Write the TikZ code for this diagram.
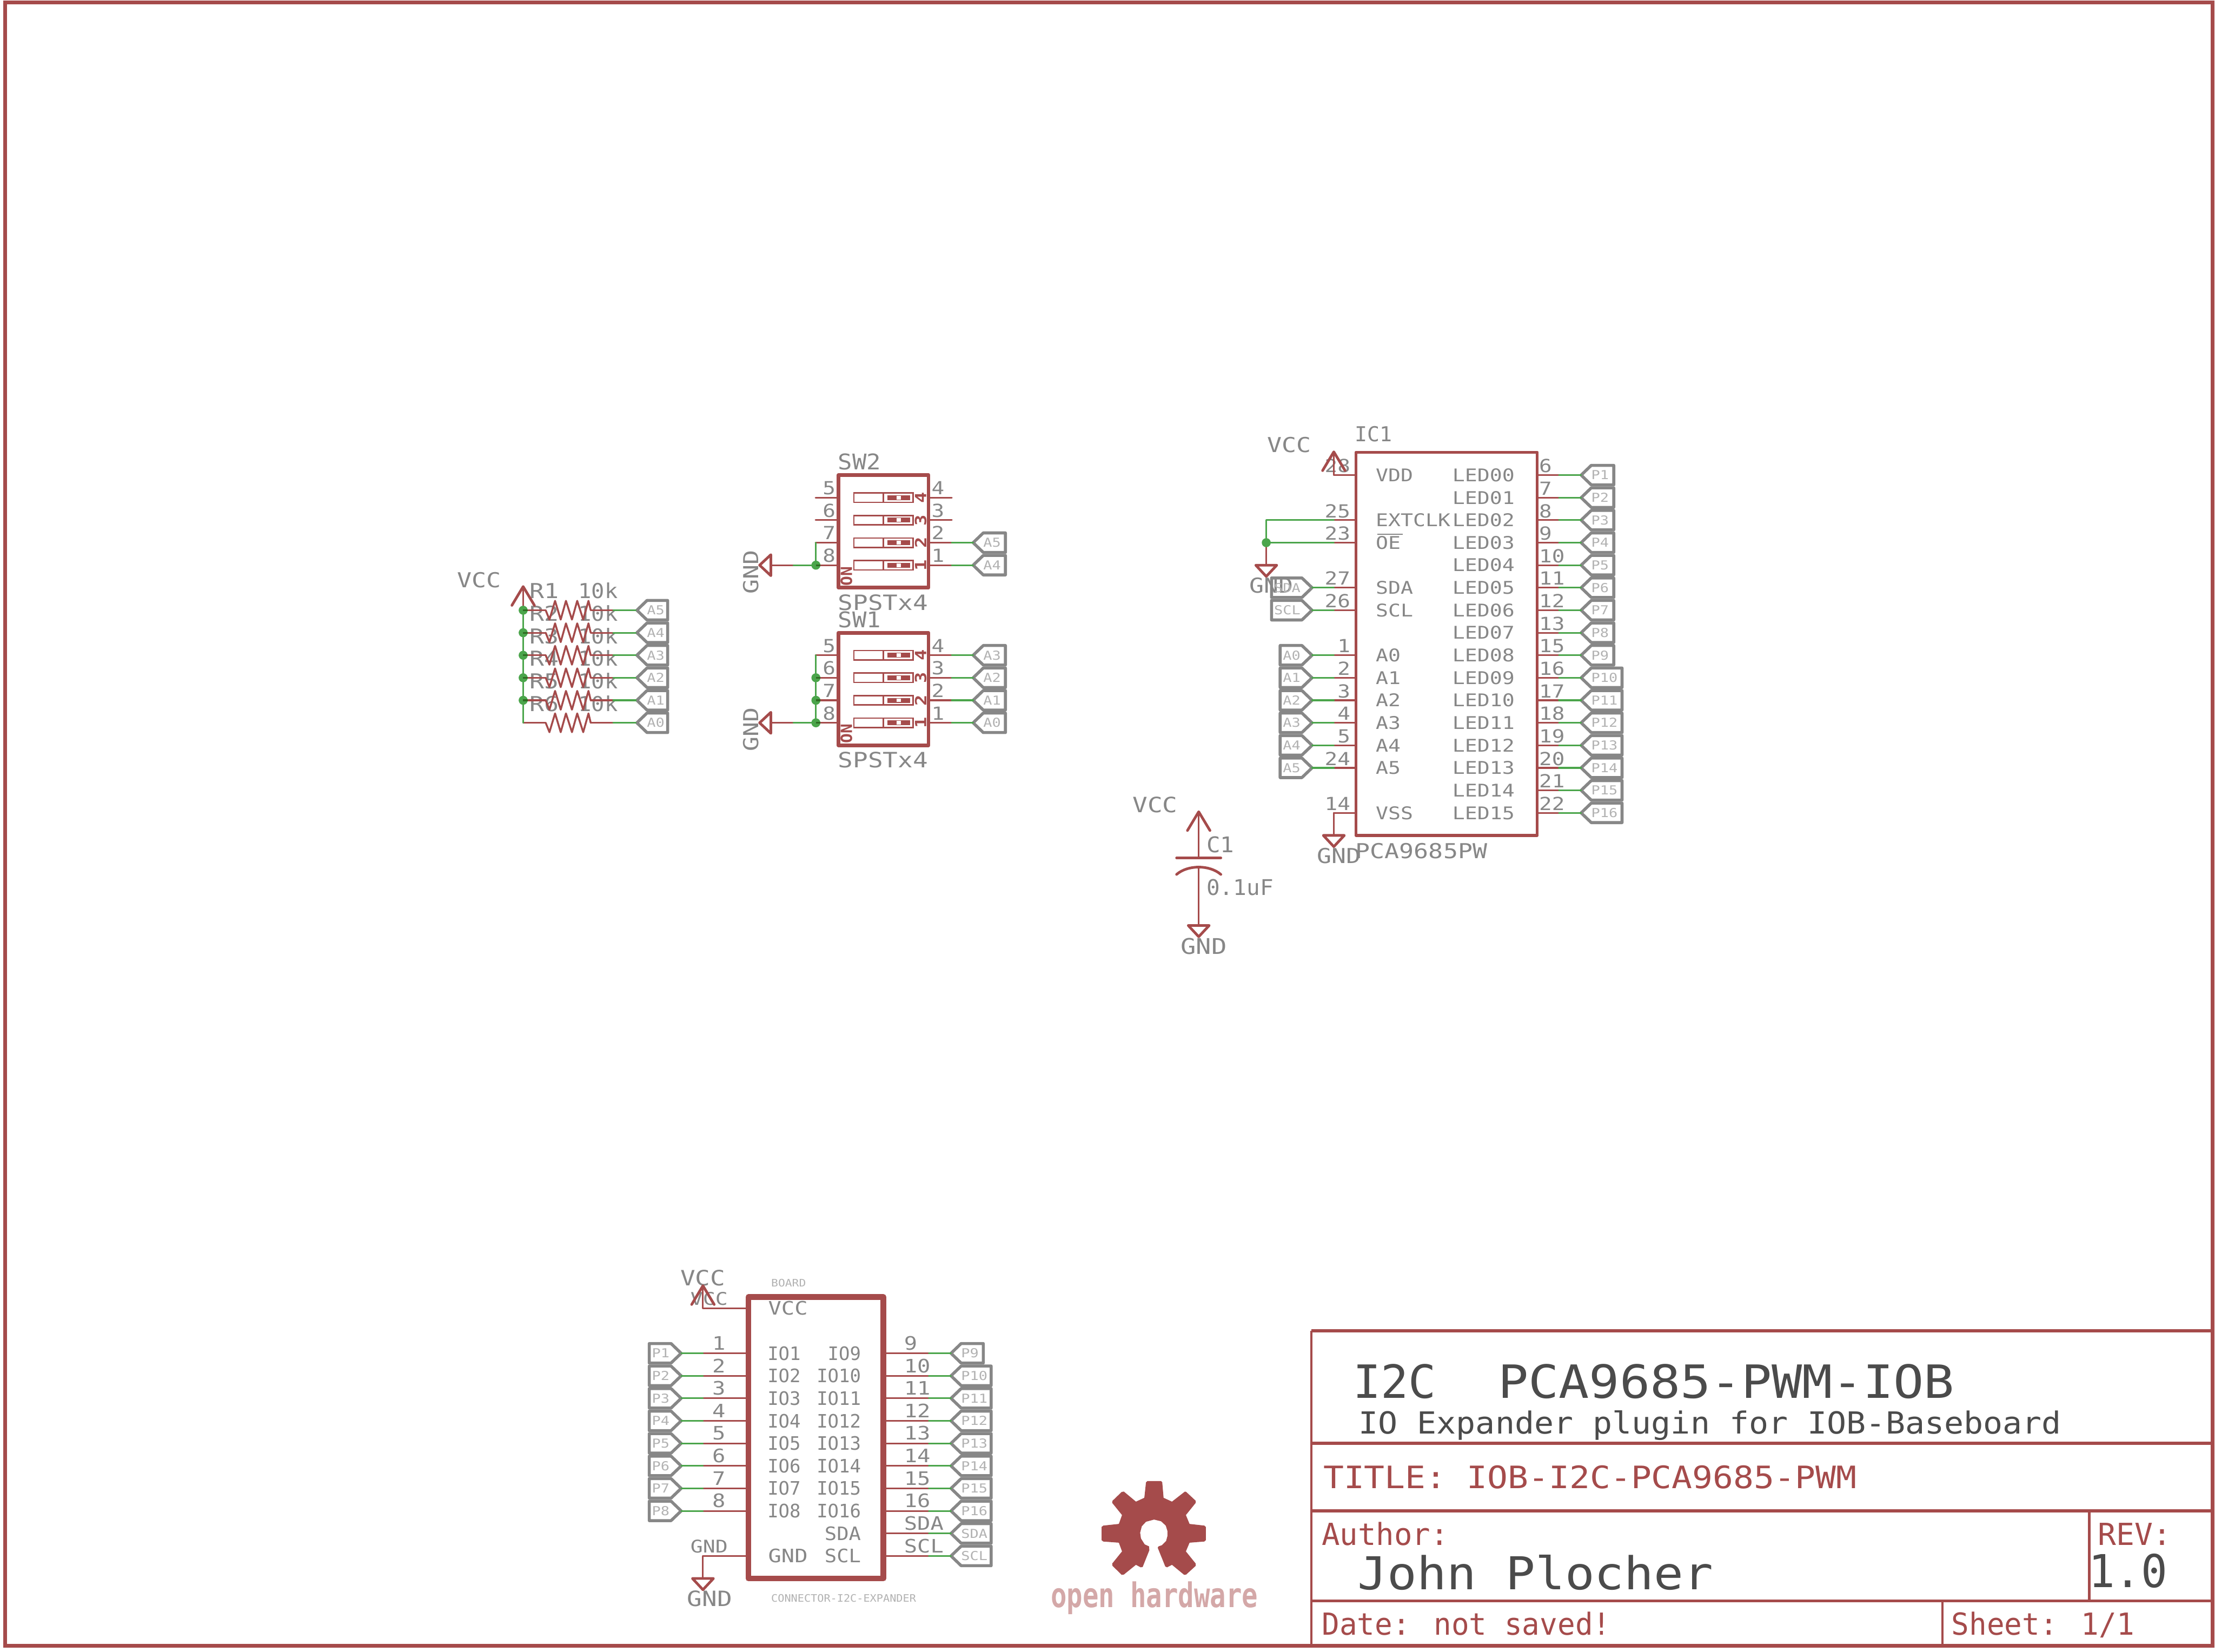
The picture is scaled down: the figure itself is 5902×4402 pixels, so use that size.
\documentclass[tikz,border=0pt]{standalone}
\usepackage{graphicx}
\usepackage{fontspec}
\newfontfamily\eag{DejaVu Sans Mono}[FakeStretch=1.18]
\definecolor{schred}{HTML}{A54B4B}
\definecolor{schgreen}{HTML}{4BA54B}
\definecolor{schdark}{HTML}{2F6A22}
\definecolor{txtgrey}{HTML}{878787}
\definecolor{thingrey}{HTML}{B2B2B2}
\definecolor{txtdark}{HTML}{4B4B4B}
\definecolor{logopink}{HTML}{D4A8A8}
\pgfdeclarelayer{wires}\pgfdeclarelayer{dots}
\pgfsetlayers{main,wires,dots}
\newcounter{nn}
\newcommand\fsz[1]{\pgfmathsetmacro\fszv{0.39*#1}\fontsize{\fszv pt}{\fszv pt}\selectfont\eag}
\tikzset{
  x=0.01cm,y=-0.01cm,
  txt/.style={font=\fsz{#1},text=txtgrey,inner sep=0pt,outer sep=0pt,anchor=base west},
  redt/.style={text=schred},
  darkt/.style={text=txtdark},
  thint/.style={text=thingrey},
  boldt/.style={font=\fsz{#1}\bfseries,text=schred,inner sep=0pt,outer sep=0pt,anchor=center,rotate=90},
  redw/.style={draw=schred,line width=0.045cm,line cap=round,line join=round},
  greenw/.style={draw=schgreen,line width=0.045cm,line cap=round},
  darkw/.style={draw=schdark,line width=0.045cm},
  symb/.style={draw=schred,line width=0.07cm,line cap=round,line join=round},
  pent/.style={draw=txtgrey,line width=0.08cm,line join=round},
  rectthin/.style={draw=schred,line width=0.08cm,line join=round},
  rectmid/.style={draw=schred,line width=0.10cm,line join=round},
  rectthick/.style={draw=schred,line width=0.15cm,line join=round},
  slotbox/.style={draw=schred,line width=0.038cm},
  frameline/.style={draw=schred,line width=0.10cm,line join=miter},
  hline/.style={draw=schred,line width=0.08cm},
  vline/.style={draw=schred,line width=0.06cm},
  greyline/.style={draw=txtgrey,line width=0.035cm},
}
% text: [options]{x}{y}{capheight}{text}
\newcommand\Tx[5][]{\stepcounter{nn}\node[txt=#4,#1] (t\arabic{nn}) at (#2,#3) {#5};}
% wire between two named coordinates
\newcommand\Wire[5]{\stepcounter{nn}\coordinate (a\arabic{nn}) at (#2,#3);\coordinate (b\arabic{nn}) at (#4,#5);\begin{pgfonlayer}{wires}\draw[#1] (a\arabic{nn}) -- (b\arabic{nn});\end{pgfonlayer}}
\newcommand\Dotj[2]{\begin{pgfonlayer}{dots}\fill[schgreen] (#1,#2) circle (0.12cm);\end{pgfonlayer}}
\newcommand\Dotd[3]{\Dotj{#1}{#2}\begin{pgfonlayer}{dots}\draw[darkw] (#1,#2) -- (#1+#3,#2);\end{pgfonlayer}}
\newcommand\VccS[2]{\begin{pgfonlayer}{wires}\draw[symb] (#1-30,#2+50) -- (#1,#2) -- (#1+30,#2+50);\end{pgfonlayer}}
\newcommand\GndS[2]{\begin{pgfonlayer}{wires}\draw[symb] (#1-28,#2) -- (#1+28,#2) -- (#1,#2+30) -- cycle;\end{pgfonlayer}}
\newcommand\GndL[2]{\begin{pgfonlayer}{wires}\draw[symb] (#1,#2-28) -- (#1,#2+28) -- (#1-30,#2) -- cycle;\end{pgfonlayer}}
% pentagon, tip to the left: {tipx}{y}{farx}{text}
\newcommand\PentL[4]{\draw[pent] (#1,#2) -- (#1+27,#2-26) -- (#3,#2-26) -- (#3,#2+26) -- (#1+27,#2+26) -- cycle;\Tx[thint]{#1+27}{#2+12}{24}{#4}}
% pentagon, tip to the right
\newcommand\PentR[4]{\draw[pent] (#1,#2) -- (#1-27,#2-26) -- (#3,#2-26) -- (#3,#2+26) -- (#1-27,#2+26) -- cycle;\Tx[thint,anchor=base east]{#1-31}{#2+12}{24}{#4}}
% one resistor row: {y}{name}
\newcommand\ResRow[2]{%
  \pgfmathsetmacro\ry{#1}%
  \Tx{1411}{\ry-31}{40}{#2}\Tx{1541}{\ry-31}{40}{\scalebox{.9}[1]{10k}}%
  \Wire{redw}{1394}{\ry}{1454}{\ry}%
  \begin{pgfonlayer}{wires}\draw[redw,line width=0.05cm] (1454,\ry) -- (1464,\ry+25) -- (1479,\ry-25) -- (1494,\ry+25) -- (1508,\ry-25) -- (1524,\ry+25) -- (1538,\ry-25) -- (1554,\ry+25) -- (1568,\ry-25) -- (1574,\ry);\end{pgfonlayer}%
  \Wire{redw}{1574}{\ry}{1634}{\ry}%
  \Wire{greenw}{1634}{\ry}{1694}{\ry}%
  \PentL{1697}{\ry}{1779}{\ifnum#1=1626 A5\else\ifnum#1=1686 A4\else\ifnum#1=1746 A3\else\ifnum#1=1806 A2\else\ifnum#1=1866 A1\else A0\fi\fi\fi\fi\fi}%
}
% one switch: {top}
\newcommand\Swch[1]{%
  \begin{pgfonlayer}{wires}\draw[rectmid] (2234,#1) rectangle (2474,#1+300);\end{pgfonlayer}
  \foreach \k/\ln/\rn in {0/5/4,1/6/3,2/7/2,3/8/1}{
    \pgfmathsetmacro\ry{#1+60+60*\k}
    \Wire{redw}{2173}{\ry}{2230}{\ry}
    \Wire{redw}{2478}{\ry}{2536}{\ry}
    \Tx{2192}{\ry-8}{35}{\ln}
    \Tx{2482}{\ry-8}{35}{\rn}
    \begin{pgfonlayer}{wires}
      \draw[slotbox] (2275,\ry-12.5) rectangle (2433,\ry+12.5);
      \draw[slotbox] (2354,\ry-12.5) -- (2354,\ry+12.5);
      \fill[schred] (2364,\ry-6.5) rectangle (2425,\ry+6.5);
      \fill[white] (2389,\ry-5) rectangle (2400,\ry+5);
    \end{pgfonlayer}
    \stepcounter{nn}\node[boldt=30] (t\arabic{nn}) at (2453,\ry) {\rn};
  }
  \stepcounter{nn}\node[boldt=30] (t\arabic{nn}) at (2255.5,#1+269) {\scalebox{.88}[1]{ON}};
}
\begin{document}
\begin{tikzpicture}
\useasboundingbox (0,0) rectangle (5902,4402);
\fill[white] (0,0) rectangle (5902,4402);
\draw[frameline] (14,6) rectangle (5896,4386);

% ---------- resistors ----------
\Tx{1218}{1565}{40}{VCC}
\foreach \yy/\nm in {1626/R1,1686/R2,1746/R3,1806/R4,1866/R5,1926/R6}{\ResRow{\yy}{\nm}}
\Wire{greenw}{1394}{1626}{1394}{1926}
\Wire{redw}{1394}{1563}{1394}{1626}
\VccS{1394}{1563}
\foreach \yy in {1626,1686,1746,1806,1866}{\Dotd{1394}{\yy}{12}}

% ---------- switches ----------
\Swch{1266}\Swch{1686}
\Tx{2233}{1252}{42}{\scalebox{.93}[1]{SW2}}
\Tx{2233}{1626}{41}{SPSTx4}
\Tx{2233}{1672}{42}{\scalebox{.93}[1]{SW1}}
\Tx{2233}{2046}{41}{SPSTx4}
\Tx[anchor=center,rotate=90]{2001}{1525}{40}{GND}
\Tx[anchor=center,rotate=90]{2001}{1944}{40}{GND}
\GndL{2054}{1506}\GndL{2054}{1926}
\Wire{redw}{2054}{1506}{2114}{1506}
\Wire{greenw}{2114}{1506}{2173}{1506}
\Wire{redw}{2054}{1926}{2114}{1926}
\Wire{greenw}{2114}{1926}{2173}{1926}
\Wire{greenw}{2173}{1446}{2173}{1506}
\Wire{greenw}{2173}{1746}{2173}{1926}
\Dotd{2174}{1506}{12}
\Dotd{2174}{1806}{12}\Dotd{2174}{1866}{12}\Dotd{2174}{1926}{12}
\foreach \yy/\lb in {1446/A5,1506/A4,1746/A3,1806/A2,1866/A1,1926/A0}{
  \Wire{greenw}{2536}{\yy}{2593}{\yy}
  \PentL{2593}{\yy}{2679}{\lb}
}

% ---------- IC1 ----------
\begin{pgfonlayer}{wires}\draw[rectthin] (3613,1205) rectangle (4096,2226);\end{pgfonlayer}
\Tx{3610}{1176}{40}{\scalebox{.85}[1]{IC1}}
\Tx{3612}{2288}{40}{PCA9685PW}
\Tx{3377}{1205}{40}{VCC}
\Tx{3329}{1580}{40}{GND}
\Tx{3509}{2300}{40}{GND}
\foreach \k/\nm/\nn in {0/VDD/28,2/EXTCLK/25,3/OE/23,5/SDA/27,6/SCL/26,8/A0/1,9/A1/2,10/A2/3,11/A3/4,12/A4/5,13/A5/24,15/VSS/14}{
  \pgfmathsetmacro\ry{1266+60*\k}
  \Tx{3666}{\ry+17}{34}{\nm}
  \Tx[anchor=base east]{3598}{\ry-7}{35}{\nn}
  \Wire{redw}{3554}{\ry}{3613}{\ry}
}
\foreach \k/\nm in {0/LED00,1/LED01,2/LED02,3/LED03,4/LED04,5/LED05,6/LED06,7/LED07,8/LED08,9/LED09,10/LED10,11/LED11,12/LED12,13/LED13,14/LED14,15/LED15}{
  \pgfmathsetmacro\ry{1266+60*\k}
  \Tx{3870}{\ry+17}{34}{\nm}
}
\foreach \k/\nn/\lb/\far in {0/6/P1/4300,1/7/P2/4300,2/8/P3/4300,3/9/P4/4300,4/10/P5/4300,5/11/P6/4300,6/12/P7/4300,7/13/P8/4300,8/15/P9/4300,9/16/P10/4322,10/17/P11/4322,11/18/P12/4322,12/19/P13/4322,13/20/P14/4322,14/21/P15/4322,15/22/P16/4322}{
  \pgfmathsetmacro\ry{1266+60*\k}
  \Tx{4101}{\ry-7}{35}{\nn}
  \Wire{redw}{4096}{\ry}{4154}{\ry}
  \Wire{greenw}{4154}{\ry}{4213}{\ry}
  \PentL{4213}{\ry}{\far}{\lb}
}
\foreach \k/\lb/\far in {5/SDA/3388,6/SCL/3388,8/A0/3411,9/A1/3411,10/A2/3411,11/A3/3411,12/A4/3411,13/A5/3411}{
  \pgfmathsetmacro\ry{1266+60*\k}
  \Wire{greenw}{3496}{\ry}{3554}{\ry}
  \PentR{3496}{\ry}{\far}{\lb}
}
\Wire{greyline}{3670}{1424}{3737}{1424}
\VccS{3554}{1204}
\Wire{redw}{3554}{1204}{3554}{1266}
\Wire{greenw}{3374}{1386}{3554}{1386}
\Wire{greenw}{3374}{1446}{3554}{1446}
\Wire{greenw}{3374}{1386}{3374}{1446}
\Wire{redw}{3374}{1446}{3374}{1506}
\GndS{3374}{1506}
\Dotj{3374}{1446}
\Wire{redw}{3554}{2166}{3554}{2226}
\GndS{3554}{2226}

% ---------- C1 ----------
\Tx{3018}{2165}{41}{VCC}
\Tx{3215}{2272}{42}{\scalebox{.9}[1]{C1}}
\Tx{3215}{2385}{42}{\scalebox{.87}[1]{0.1uF}}
\Tx{3146}{2542}{42}{GND}
\VccS{3194}{2163}
\Wire{redw}{3194}{2163}{3194}{2286}
\Wire{symb}{3135}{2286}{3253}{2286}
\Wire{redw}{3194}{2309}{3194}{2466}
\begin{pgfonlayer}{wires}\draw[symb] (3135,2330) .. controls (3165,2304) and (3223,2304) .. (3253,2330);\end{pgfonlayer}
\GndS{3194}{2466}

% ---------- connector ----------
\begin{pgfonlayer}{wires}\draw[rectthick] (1994,3456) rectangle (2354,4206);\end{pgfonlayer}
\Tx{1813}{3426}{41}{VCC}
\Tx{1840}{3477}{34}{VCC}
\Tx{1840}{4137}{34}{GND}
\Tx{1831}{4280}{41}{GND}
\Tx[thint]{2055}{3428}{20}{\scalebox{.95}[1]{BOARD}}
\Tx[thint]{2055}{4268}{20}{\scalebox{.9}[1]{CONNECTOR-I2C-EXPANDER}}
\Tx{2047}{3503}{36}{VCC}
\Tx{2047}{4164}{36}{GND}
\VccS{1873}{3426}
\Wire{redw}{1873}{3426}{1873}{3486}
\Wire{redw}{1873}{3486}{1994}{3486}
\Wire{redw}{1873}{4146}{1994}{4146}
\Wire{redw}{1873}{4146}{1873}{4206}
\GndS{1873}{4206}
\foreach \k/\nn/\nm/\lb in {0/1/IO1/P1,1/2/IO2/P2,2/3/IO3/P3,3/4/IO4/P4,4/5/IO5/P5,5/6/IO6/P6,6/7/IO7/P7,7/8/IO8/P8}{
  \pgfmathsetmacro\ry{3606+60*\k}
  \Tx[anchor=base east]{1933}{\ry-9}{36}{\nn}
  \Tx{2045}{\ry+18}{36}{\scalebox{.84}[1]{\nm}}
  \Wire{redw}{1873}{\ry}{1994}{\ry}
  \Wire{greenw}{1815}{\ry}{1873}{\ry}
  \PentR{1815}{\ry}{1730}{\lb}
}
\foreach \k/\nn/\nm/\lb/\far/\sc in {0/9/IO9/P9/2620/.84,1/10/IO10/P10/2641/.84,2/11/IO11/P11/2641/.84,3/12/IO12/P12/2641/.84,4/13/IO13/P13/2641/.84,5/14/IO14/P14/2641/.84,6/15/IO15/P15/2641/.84,7/16/IO16/P16/2641/.84,8/SDA/SDA/SDA/2641/.92,9/SCL/SCL/SCL/2641/.92}{
  \pgfmathsetmacro\ry{3606+60*\k}
  \Tx{2409}{\ry-9}{36}{\nn}
  \Tx[anchor=base east]{2294}{\ry+18}{36}{\scalebox{\sc}[1]{\nm}}
  \Wire{redw}{2354}{\ry}{2475}{\ry}
  \Wire{greenw}{2475}{\ry}{2534}{\ry}
  \PentL{2534}{\ry}{\far}{\lb}
}

% ---------- logo ----------
\begin{scope}[shift={(2750,3700)},xscale=0.4464,yscale=0.4464]
\fill[schred] (680,560) -- (688,552) -- (770,552) -- (777,560) -- (785,652) -- (835,675)
 -- (912,615) -- (920,617) -- (977,670) -- (977,682) -- (918,755) -- (940,808)
 -- (1028,818) -- (1037,826) -- (1037,905) -- (1028,913) -- (940,920) -- (918,972)
 -- (977,1045) -- (977,1058) -- (920,1110) -- (908,1112) -- (835,1052) -- (806,1067) -- (795,1062)
 -- (750,950) -- (755,942) -- (775,935) -- (800,910) -- (808,880) -- (808,850) -- (798,818) -- (770,792)
 -- (728,782) -- (680,795) -- (655,822) -- (645,860) -- (650,895) -- (672,930) -- (698,942) -- (700,965)
 -- (660,1065) -- (648,1067) -- (620,1052) -- (548,1110) -- (535,1112) -- (480,1058) -- (478,1045)
 -- (537,972) -- (518,920) -- (425,913) -- (415,905) -- (415,826) -- (425,818) -- (518,808) -- (537,755)
 -- (478,682) -- (480,670) -- (535,617) -- (548,615) -- (620,675) -- (670,652) -- cycle;
\end{scope}
\stepcounter{nn}\node[txt=66,text=logopink,font=\fsz{66}\bfseries] (t\arabic{nn}) at (2800,4283) {\scalebox{.66}[1]{open hardware}};

% ---------- title block ----------
\Wire{hline}{3494}{3546}{5896}{3546}
\Wire{hline}{3494}{3846}{5896}{3846}
\Wire{hline}{3494}{4026}{5896}{4026}
\Wire{hline}{3494}{4266}{5896}{4266}
\Wire{vline}{3494}{3546}{3494}{4386}
\Wire{vline}{5567}{4026}{5567}{4266}
\Wire{vline}{5176}{4266}{5176}{4386}
\Tx[darkt]{3606}{3726}{89}{\scalebox{.85}[1]{I2C}\hspace{46.7pt}\scalebox{.935}[1]{PCA9685-PWM-IOB}}
\Tx[darkt]{3620}{3821}{59}{\scalebox{.905}[1]{IO Expander plugin for IOB-Baseboard}}
\Tx[redt]{3526}{3966}{60}{\scalebox{.935}[1]{TITLE: IOB-I2C-PCA9685-PWM}}
\Tx[redt]{3522}{4117}{59}{\scalebox{.84}[1]{Author:}}
\Tx[darkt]{3618}{4235}{88}{\scalebox{.92}[1]{John Plocher}}
\Tx[redt]{5590}{4117}{59}{\scalebox{.85}[1]{REV:}}
\Tx[darkt]{5565}{4230}{88}{\scalebox{.82}[1]{1.0}}
\Tx[redt]{3522}{4356}{59}{\scalebox{.82}[1]{Date: not saved!}}
\Tx[redt]{5200}{4356}{59}{\scalebox{.82}[1]{Sheet: 1/1}}
\end{tikzpicture}
\end{document}
